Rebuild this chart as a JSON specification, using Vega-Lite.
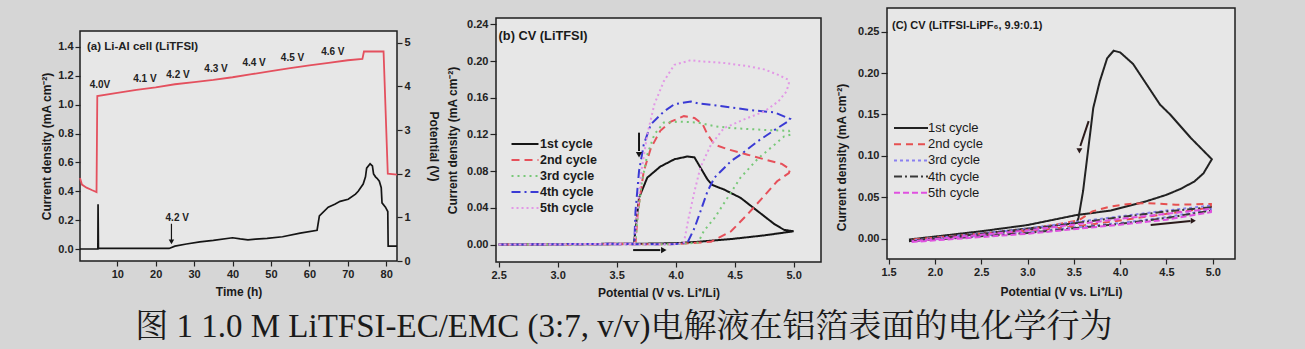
{
 "$schema": "https://vega.github.io/schema/vega-lite/v6.json",
 "background": "#d6d6d6",
 "padding": {"left": 39, "top": 7, "right": 69, "bottom": 5},
 "config": {
  "font": "Liberation Sans",
  "view": {"fill": "#e7e7e7", "stroke": "#1e1e1e", "strokeWidth": 1.5},
  "axis": {"domain": false, "grid": false, "tickColor": "#222", "tickWidth": 1.2, "tickSize": 5, "labelFont": "Liberation Sans", "labelFontSize": 11, "labelFontWeight": "bold", "labelColor": "#222", "labelPadding": 2, "titleFont": "Liberation Sans", "titleFontSize": 12, "titleFontWeight": "bold", "titleColor": "#1a1a1a"}
 },
 "title": {"text": "图 1 1.0 M LiTFSI-EC/EMC (3:7, v/v)电解液在铝箔表面的电化学行为", "orient": "bottom", "anchor": "middle", "dx": -14, "offset": 12, "font": "Liberation Serif, Noto Serif CJK SC, Noto Sans CJK SC", "fontSize": 33, "fontWeight": "normal", "color": "#1a1a1a"},
 "datasets": {
  "aI": [
   {"t": 0.3, "I": 0.0}, {"t": 4.95, "I": 0.0}, {"t": 5.0, "I": 0.31}, {"t": 5.1, "I": 0.005}, {"t": 23.5, "I": 0.004},
   {"t": 25, "I": 0.02}, {"t": 28, "I": 0.035}, {"t": 31.5, "I": 0.05}, {"t": 35, "I": 0.06}, {"t": 40, "I": 0.078},
   {"t": 42, "I": 0.07}, {"t": 44, "I": 0.064}, {"t": 46, "I": 0.068}, {"t": 49, "I": 0.074}, {"t": 53, "I": 0.085},
   {"t": 57.6, "I": 0.11}, {"t": 62, "I": 0.13}, {"t": 62.6, "I": 0.23}, {"t": 64.9, "I": 0.29}, {"t": 66.6, "I": 0.31},
   {"t": 68, "I": 0.33}, {"t": 70.1, "I": 0.345}, {"t": 72, "I": 0.38}, {"t": 72.7, "I": 0.4}, {"t": 74, "I": 0.45},
   {"t": 74.6, "I": 0.5}, {"t": 74.9, "I": 0.56}, {"t": 75.8, "I": 0.59}, {"t": 76.4, "I": 0.575}, {"t": 76.7, "I": 0.52},
   {"t": 77.2, "I": 0.5}, {"t": 77.6, "I": 0.49}, {"t": 78.2, "I": 0.47}, {"t": 78.7, "I": 0.425}, {"t": 78.9, "I": 0.32},
   {"t": 79.8, "I": 0.29}, {"t": 80.4, "I": 0.26}, {"t": 80.5, "I": 0.02}, {"t": 82.8, "I": 0.02}
  ],
  "aV": [
   {"t": 0.3, "V": 1.9}, {"t": 0.8, "V": 1.75}, {"t": 2, "V": 1.68}, {"t": 3.5, "V": 1.62}, {"t": 4.6, "V": 1.58},
   {"t": 4.8, "V": 3.78}, {"t": 10, "V": 3.85}, {"t": 15, "V": 3.92}, {"t": 20, "V": 3.98}, {"t": 25, "V": 4.05},
   {"t": 30, "V": 4.1}, {"t": 35, "V": 4.15}, {"t": 40, "V": 4.21}, {"t": 45, "V": 4.28}, {"t": 50, "V": 4.35},
   {"t": 55, "V": 4.42}, {"t": 60, "V": 4.48}, {"t": 65, "V": 4.54}, {"t": 70, "V": 4.6}, {"t": 73.8, "V": 4.63},
   {"t": 74.2, "V": 4.8}, {"t": 79.3, "V": 4.8}, {"t": 80.4, "V": 2.0}, {"t": 82.8, "V": 1.98}
  ],
  "aLab": [
   {"t": 5.5, "V": 4.03, "label": "4.0V"}, {"t": 17.2, "V": 4.16, "label": "4.1 V"}, {"t": 25.8, "V": 4.26, "label": "4.2 V"},
   {"t": 35.7, "V": 4.39, "label": "4.3 V"}, {"t": 45.6, "V": 4.54, "label": "4.4 V"}, {"t": 55.6, "V": 4.64, "label": "4.5 V"},
   {"t": 66.1, "V": 4.8, "label": "4.6 V"}
  ],
  "b": [
   {"c": "1st cycle", "i": 0, "V": 2.5, "I": 0}, {"c": "1st cycle", "i": 1, "V": 3.5, "I": 0.0005}, {"c": "1st cycle", "i": 2, "V": 4.0, "I": 0.0015},
   {"c": "1st cycle", "i": 3, "V": 4.19, "I": 0.003}, {"c": "1st cycle", "i": 4, "V": 4.47, "I": 0.006}, {"c": "1st cycle", "i": 5, "V": 4.75, "I": 0.01},
   {"c": "1st cycle", "i": 6, "V": 5.0, "I": 0.0145}, {"c": "1st cycle", "i": 7, "V": 4.92, "I": 0.016}, {"c": "1st cycle", "i": 8, "V": 4.84, "I": 0.022},
   {"c": "1st cycle", "i": 9, "V": 4.7, "I": 0.036}, {"c": "1st cycle", "i": 10, "V": 4.55, "I": 0.051}, {"c": "1st cycle", "i": 11, "V": 4.41, "I": 0.06},
   {"c": "1st cycle", "i": 12, "V": 4.31, "I": 0.065}, {"c": "1st cycle", "i": 13, "V": 4.27, "I": 0.071}, {"c": "1st cycle", "i": 14, "V": 4.21, "I": 0.084},
   {"c": "1st cycle", "i": 15, "V": 4.16, "I": 0.095}, {"c": "1st cycle", "i": 16, "V": 4.1, "I": 0.096}, {"c": "1st cycle", "i": 17, "V": 3.99, "I": 0.093},
   {"c": "1st cycle", "i": 18, "V": 3.87, "I": 0.085}, {"c": "1st cycle", "i": 19, "V": 3.76, "I": 0.073}, {"c": "1st cycle", "i": 20, "V": 3.69, "I": 0.051},
   {"c": "1st cycle", "i": 21, "V": 3.647, "I": 0.001}, {"c": "1st cycle", "i": 22, "V": 2.5, "I": 0},
   {"c": "2nd cycle", "i": 0, "V": 2.5, "I": 0}, {"c": "2nd cycle", "i": 1, "V": 4.0, "I": 0.0005}, {"c": "2nd cycle", "i": 2, "V": 4.3, "I": 0.003},
   {"c": "2nd cycle", "i": 3, "V": 4.47, "I": 0.0145}, {"c": "2nd cycle", "i": 4, "V": 4.61, "I": 0.033}, {"c": "2nd cycle", "i": 5, "V": 4.75, "I": 0.053},
   {"c": "2nd cycle", "i": 6, "V": 4.86, "I": 0.069}, {"c": "2nd cycle", "i": 7, "V": 4.96, "I": 0.078}, {"c": "2nd cycle", "i": 8, "V": 4.97, "I": 0.082},
   {"c": "2nd cycle", "i": 9, "V": 4.9, "I": 0.088}, {"c": "2nd cycle", "i": 10, "V": 4.75, "I": 0.093}, {"c": "2nd cycle", "i": 11, "V": 4.61, "I": 0.098},
   {"c": "2nd cycle", "i": 12, "V": 4.44, "I": 0.104}, {"c": "2nd cycle", "i": 13, "V": 4.33, "I": 0.109}, {"c": "2nd cycle", "i": 14, "V": 4.27, "I": 0.12},
   {"c": "2nd cycle", "i": 15, "V": 4.23, "I": 0.131}, {"c": "2nd cycle", "i": 16, "V": 4.16, "I": 0.138}, {"c": "2nd cycle", "i": 17, "V": 4.07, "I": 0.14},
   {"c": "2nd cycle", "i": 18, "V": 3.96, "I": 0.134}, {"c": "2nd cycle", "i": 19, "V": 3.87, "I": 0.124}, {"c": "2nd cycle", "i": 20, "V": 3.79, "I": 0.105},
   {"c": "2nd cycle", "i": 21, "V": 3.73, "I": 0.08}, {"c": "2nd cycle", "i": 22, "V": 3.68, "I": 0.036}, {"c": "2nd cycle", "i": 23, "V": 3.66, "I": 0.001},
   {"c": "2nd cycle", "i": 24, "V": 2.5, "I": 0},
   {"c": "3rd cycle", "i": 0, "V": 2.5, "I": 0}, {"c": "3rd cycle", "i": 1, "V": 4.0, "I": 0.0005}, {"c": "3rd cycle", "i": 2, "V": 4.19, "I": 0.002},
   {"c": "3rd cycle", "i": 3, "V": 4.24, "I": 0.015}, {"c": "3rd cycle", "i": 4, "V": 4.33, "I": 0.029}, {"c": "3rd cycle", "i": 5, "V": 4.44, "I": 0.051},
   {"c": "3rd cycle", "i": 6, "V": 4.55, "I": 0.073}, {"c": "3rd cycle", "i": 7, "V": 4.7, "I": 0.094}, {"c": "3rd cycle", "i": 8, "V": 4.84, "I": 0.109},
   {"c": "3rd cycle", "i": 9, "V": 4.92, "I": 0.118}, {"c": "3rd cycle", "i": 10, "V": 4.98, "I": 0.12}, {"c": "3rd cycle", "i": 11, "V": 4.96, "I": 0.124},
   {"c": "3rd cycle", "i": 12, "V": 4.75, "I": 0.125}, {"c": "3rd cycle", "i": 13, "V": 4.47, "I": 0.127}, {"c": "3rd cycle", "i": 14, "V": 4.33, "I": 0.129},
   {"c": "3rd cycle", "i": 15, "V": 4.19, "I": 0.133}, {"c": "3rd cycle", "i": 16, "V": 4.04, "I": 0.134}, {"c": "3rd cycle", "i": 17, "V": 3.9, "I": 0.133},
   {"c": "3rd cycle", "i": 18, "V": 3.82, "I": 0.12}, {"c": "3rd cycle", "i": 19, "V": 3.76, "I": 0.098}, {"c": "3rd cycle", "i": 20, "V": 3.71, "I": 0.065},
   {"c": "3rd cycle", "i": 21, "V": 3.67, "I": 0.02}, {"c": "3rd cycle", "i": 22, "V": 3.66, "I": 0.001}, {"c": "3rd cycle", "i": 23, "V": 2.5, "I": 0},
   {"c": "4th cycle", "i": 0, "V": 2.5, "I": 0}, {"c": "4th cycle", "i": 1, "V": 4.0, "I": 0.0005}, {"c": "4th cycle", "i": 2, "V": 4.1, "I": 0.002},
   {"c": "4th cycle", "i": 3, "V": 4.16, "I": 0.018}, {"c": "4th cycle", "i": 4, "V": 4.21, "I": 0.036}, {"c": "4th cycle", "i": 5, "V": 4.27, "I": 0.058},
   {"c": "4th cycle", "i": 6, "V": 4.33, "I": 0.073}, {"c": "4th cycle", "i": 7, "V": 4.47, "I": 0.091}, {"c": "4th cycle", "i": 8, "V": 4.55, "I": 0.098},
   {"c": "4th cycle", "i": 9, "V": 4.7, "I": 0.113}, {"c": "4th cycle", "i": 10, "V": 4.84, "I": 0.125}, {"c": "4th cycle", "i": 11, "V": 4.95, "I": 0.134},
   {"c": "4th cycle", "i": 12, "V": 4.97, "I": 0.137}, {"c": "4th cycle", "i": 13, "V": 4.84, "I": 0.144}, {"c": "4th cycle", "i": 14, "V": 4.61, "I": 0.147},
   {"c": "4th cycle", "i": 15, "V": 4.38, "I": 0.151}, {"c": "4th cycle", "i": 16, "V": 4.19, "I": 0.154}, {"c": "4th cycle", "i": 17, "V": 4.13, "I": 0.156},
   {"c": "4th cycle", "i": 18, "V": 3.99, "I": 0.153}, {"c": "4th cycle", "i": 19, "V": 3.9, "I": 0.145}, {"c": "4th cycle", "i": 20, "V": 3.79, "I": 0.131},
   {"c": "4th cycle", "i": 21, "V": 3.73, "I": 0.109}, {"c": "4th cycle", "i": 22, "V": 3.69, "I": 0.08}, {"c": "4th cycle", "i": 23, "V": 3.66, "I": 0.036},
   {"c": "4th cycle", "i": 24, "V": 3.65, "I": 0.001}, {"c": "4th cycle", "i": 25, "V": 2.5, "I": 0},
   {"c": "5th cycle", "i": 0, "V": 2.5, "I": 0}, {"c": "5th cycle", "i": 1, "V": 4.0, "I": 0.0005}, {"c": "5th cycle", "i": 2, "V": 4.07, "I": 0.002},
   {"c": "5th cycle", "i": 3, "V": 4.11, "I": 0.029}, {"c": "5th cycle", "i": 4, "V": 4.16, "I": 0.058}, {"c": "5th cycle", "i": 5, "V": 4.21, "I": 0.084},
   {"c": "5th cycle", "i": 6, "V": 4.3, "I": 0.109}, {"c": "5th cycle", "i": 7, "V": 4.41, "I": 0.127}, {"c": "5th cycle", "i": 8, "V": 4.61, "I": 0.138},
   {"c": "5th cycle", "i": 9, "V": 4.75, "I": 0.145}, {"c": "5th cycle", "i": 10, "V": 4.87, "I": 0.156}, {"c": "5th cycle", "i": 11, "V": 4.94, "I": 0.167},
   {"c": "5th cycle", "i": 12, "V": 4.96, "I": 0.176}, {"c": "5th cycle", "i": 13, "V": 4.95, "I": 0.18}, {"c": "5th cycle", "i": 14, "V": 4.87, "I": 0.185},
   {"c": "5th cycle", "i": 15, "V": 4.75, "I": 0.191}, {"c": "5th cycle", "i": 16, "V": 4.61, "I": 0.1945}, {"c": "5th cycle", "i": 17, "V": 4.41, "I": 0.198},
   {"c": "5th cycle", "i": 18, "V": 4.19, "I": 0.2}, {"c": "5th cycle", "i": 19, "V": 4.13, "I": 0.201}, {"c": "5th cycle", "i": 20, "V": 3.99, "I": 0.196},
   {"c": "5th cycle", "i": 21, "V": 3.9, "I": 0.178}, {"c": "5th cycle", "i": 22, "V": 3.82, "I": 0.153}, {"c": "5th cycle", "i": 23, "V": 3.76, "I": 0.12},
   {"c": "5th cycle", "i": 24, "V": 3.71, "I": 0.08}, {"c": "5th cycle", "i": 25, "V": 3.67, "I": 0.028}, {"c": "5th cycle", "i": 26, "V": 3.65, "I": 0.001},
   {"c": "5th cycle", "i": 27, "V": 2.5, "I": 0}
  ],
  "c": [
   {"c": "1st cycle", "i": 0, "V": 1.72, "I": -0.001}, {"c": "1st cycle", "i": 1, "V": 2.5, "I": 0.009}, {"c": "1st cycle", "i": 2, "V": 3.0, "I": 0.0165},
   {"c": "1st cycle", "i": 3, "V": 3.53, "I": 0.0286}, {"c": "1st cycle", "i": 4, "V": 3.9, "I": 0.034}, {"c": "1st cycle", "i": 5, "V": 4.29, "I": 0.0455},
   {"c": "1st cycle", "i": 6, "V": 4.5, "I": 0.053}, {"c": "1st cycle", "i": 7, "V": 4.65, "I": 0.06}, {"c": "1st cycle", "i": 8, "V": 4.8, "I": 0.069},
   {"c": "1st cycle", "i": 9, "V": 4.9, "I": 0.079}, {"c": "1st cycle", "i": 10, "V": 4.99, "I": 0.096}, {"c": "1st cycle", "i": 11, "V": 4.76, "I": 0.122},
   {"c": "1st cycle", "i": 12, "V": 4.54, "I": 0.15}, {"c": "1st cycle", "i": 13, "V": 4.43, "I": 0.162}, {"c": "1st cycle", "i": 14, "V": 4.14, "I": 0.211},
   {"c": "1st cycle", "i": 15, "V": 4.0, "I": 0.225}, {"c": "1st cycle", "i": 16, "V": 3.93, "I": 0.227}, {"c": "1st cycle", "i": 17, "V": 3.86, "I": 0.218},
   {"c": "1st cycle", "i": 18, "V": 3.78, "I": 0.19}, {"c": "1st cycle", "i": 19, "V": 3.71, "I": 0.158}, {"c": "1st cycle", "i": 20, "V": 3.6, "I": 0.0576},
   {"c": "1st cycle", "i": 21, "V": 3.55, "I": 0.025}, {"c": "1st cycle", "i": 22, "V": 3.53, "I": 0.019}, {"c": "1st cycle", "i": 23, "V": 2.5, "I": 0.006},
   {"c": "1st cycle", "i": 24, "V": 1.72, "I": -0.003},
   {"c": "2nd cycle", "i": 0, "V": 1.75, "I": -0.002}, {"c": "2nd cycle", "i": 1, "V": 3.0, "I": 0.009}, {"c": "2nd cycle", "i": 2, "V": 3.6, "I": 0.016},
   {"c": "2nd cycle", "i": 3, "V": 4.0, "I": 0.022}, {"c": "2nd cycle", "i": 4, "V": 4.5, "I": 0.03}, {"c": "2nd cycle", "i": 5, "V": 4.98, "I": 0.038},
   {"c": "2nd cycle", "i": 6, "V": 4.98, "I": 0.042}, {"c": "2nd cycle", "i": 7, "V": 4.6, "I": 0.041}, {"c": "2nd cycle", "i": 8, "V": 4.3, "I": 0.043},
   {"c": "2nd cycle", "i": 9, "V": 4.1, "I": 0.042}, {"c": "2nd cycle", "i": 10, "V": 3.9, "I": 0.039}, {"c": "2nd cycle", "i": 11, "V": 3.7, "I": 0.033},
   {"c": "2nd cycle", "i": 12, "V": 3.55, "I": 0.022}, {"c": "2nd cycle", "i": 13, "V": 3.0, "I": 0.011}, {"c": "2nd cycle", "i": 14, "V": 1.75, "I": -0.001},
   {"c": "3rd cycle", "i": 0, "V": 1.75, "I": -0.003}, {"c": "3rd cycle", "i": 1, "V": 3.0, "I": 0.008}, {"c": "3rd cycle", "i": 2, "V": 4.0, "I": 0.019},
   {"c": "3rd cycle", "i": 3, "V": 4.5, "I": 0.026}, {"c": "3rd cycle", "i": 4, "V": 4.98, "I": 0.035}, {"c": "3rd cycle", "i": 5, "V": 4.98, "I": 0.04},
   {"c": "3rd cycle", "i": 6, "V": 4.5, "I": 0.034}, {"c": "3rd cycle", "i": 7, "V": 4.0, "I": 0.027}, {"c": "3rd cycle", "i": 8, "V": 3.5, "I": 0.02},
   {"c": "3rd cycle", "i": 9, "V": 3.0, "I": 0.012}, {"c": "3rd cycle", "i": 10, "V": 1.75, "I": -0.002},
   {"c": "4th cycle", "i": 0, "V": 1.75, "I": -0.003}, {"c": "4th cycle", "i": 1, "V": 3.0, "I": 0.007}, {"c": "4th cycle", "i": 2, "V": 4.0, "I": 0.018},
   {"c": "4th cycle", "i": 3, "V": 4.5, "I": 0.025}, {"c": "4th cycle", "i": 4, "V": 4.98, "I": 0.034}, {"c": "4th cycle", "i": 5, "V": 4.98, "I": 0.038},
   {"c": "4th cycle", "i": 6, "V": 4.5, "I": 0.033}, {"c": "4th cycle", "i": 7, "V": 4.0, "I": 0.026}, {"c": "4th cycle", "i": 8, "V": 3.0, "I": 0.011},
   {"c": "4th cycle", "i": 9, "V": 1.75, "I": -0.002},
   {"c": "5th cycle", "i": 0, "V": 1.75, "I": -0.004}, {"c": "5th cycle", "i": 1, "V": 3.0, "I": 0.006}, {"c": "5th cycle", "i": 2, "V": 4.0, "I": 0.017},
   {"c": "5th cycle", "i": 3, "V": 4.5, "I": 0.023}, {"c": "5th cycle", "i": 4, "V": 4.98, "I": 0.032}, {"c": "5th cycle", "i": 5, "V": 4.98, "I": 0.036},
   {"c": "5th cycle", "i": 6, "V": 4.5, "I": 0.03}, {"c": "5th cycle", "i": 7, "V": 4.0, "I": 0.024}, {"c": "5th cycle", "i": 8, "V": 3.0, "I": 0.01},
   {"c": "5th cycle", "i": 9, "V": 1.75, "I": -0.003}
  ]
 },
 "spacing": 5,
 "resolve": {"scale": {"color": "independent", "strokeDash": "independent"}, "legend": {"color": "independent", "strokeDash": "independent"}},
 "hconcat": [
  {
   "spacing": 0,
   "vconcat": [
    {"width": 10, "height": 22, "data": {"values": [{"k": 0}]}, "mark": {"type": "point", "opacity": 0}, "encoding": {}, "view": {"stroke": null, "fill": null}},
    {
     "width": 317, "height": 230,
     "encoding": {"x": {"field": "t", "type": "quantitative", "scale": {"domain": [0.3, 82.8], "nice": false, "zero": false}, "axis": {"values": [10, 20, 30, 40, 50, 60, 70, 80], "title": "Time (h)", "titlePadding": 7}}},
     "layer": [
      {
       "encoding": {"y": {"field": "I", "type": "quantitative", "scale": {"domain": [-0.083, 1.51], "nice": false, "zero": false}, "axis": {"values": [0, 0.2, 0.4, 0.6, 0.8, 1.0, 1.2, 1.4], "format": ".1f", "title": "Current density (mA cm⁻²)", "titlePadding": 4}}},
       "layer": [
        {"data": {"name": "aI"}, "mark": {"type": "line", "color": "#151515", "strokeWidth": 1.7}},
        {"data": {"values": [{"t": 24.1, "I": 0.175, "I2": 0.06}]}, "mark": {"type": "rule", "color": "#151515", "strokeWidth": 1.2}, "encoding": {"y2": {"field": "I2"}}},
        {"data": {"values": [{"t": 24.1, "I": 0.05}]}, "mark": {"type": "point", "shape": "triangle-down", "filled": true, "opacity": 1, "size": 30, "color": "#151515"}},
        {"data": {"values": [{"t": 25.6, "I": 0.217, "label": "4.2 V"}]}, "mark": {"type": "text", "fontSize": 10, "fontWeight": "bold", "color": "#222", "baseline": "middle"}, "encoding": {"text": {"field": "label"}}},
        {"data": {"values": [{"t": 2.1, "I": 1.4, "label": "(a) Li-Al cell (LiTFSI)"}]}, "mark": {"type": "text", "fontSize": 11.5, "fontWeight": "bold", "color": "#222", "align": "left", "baseline": "middle"}, "encoding": {"text": {"field": "label"}}}
       ]
      },
      {
       "encoding": {"y": {"field": "V", "type": "quantitative", "scale": {"domain": [0, 5.27], "nice": false, "zero": false}, "axis": {"orient": "right", "values": [0, 1, 2, 3, 4, 5], "title": "Potential (V)", "titlePadding": 16}}},
       "layer": [
        {"data": {"name": "aV"}, "mark": {"type": "line", "color": "#e4505e", "strokeWidth": 1.8}},
        {"data": {"name": "aLab"}, "mark": {"type": "text", "fontSize": 10, "fontWeight": "bold", "color": "#222", "baseline": "middle"}, "encoding": {"text": {"field": "label"}}}
       ]
      }
     ],
     "resolve": {"scale": {"y": "independent"}}
    }
   ]
  },
  {
   "spacing": 12,
   "resolve": {"scale": {"color": "independent", "strokeDash": "independent"}, "legend": {"color": "independent", "strokeDash": "independent"}},
   "hconcat": [
    {
     "spacing": 0,
     "vconcat": [
      {"width": 10, "height": 9, "data": {"values": [{"k": 0}]}, "mark": {"type": "point", "opacity": 0}, "encoding": {}, "view": {"stroke": null, "fill": null}},
      {
       "width": 325, "height": 244,
       "encoding": {
        "x": {"field": "V", "type": "quantitative", "scale": {"domain": [2.478, 5.232], "nice": false, "zero": false}, "axis": {"values": [2.5, 3.0, 3.5, 4.0, 4.5, 5.0], "format": ".1f", "title": "Potential (V vs. Li⁺/Li)", "titlePadding": 7}},
        "y": {"field": "I", "type": "quantitative", "scale": {"domain": [-0.019, 0.247], "nice": false, "zero": false}, "axis": {"values": [0, 0.04, 0.08, 0.12, 0.16, 0.2, 0.24], "format": ".2f", "title": "Current density (mA cm⁻²)", "titlePadding": 7, "tickSize": 6}}
       },
       "layer": [
        {"data": {"name": "b"}, "mark": {"type": "line", "strokeWidth": 2},
         "encoding": {
          "color": {"field": "c", "type": "nominal", "scale": {"domain": ["1st cycle", "2nd cycle", "3rd cycle", "4th cycle", "5th cycle"], "range": ["#151515", "#e6505a", "#78c878", "#3a3ad4", "#e298e6"]}, "legend": {"orient": "none", "legendX": 21, "legendY": 128, "title": null, "symbolType": "M-2,0H2", "symbolSize": 182, "symbolStrokeWidth": 2, "labelFontSize": 12.5, "labelFontWeight": "bold", "labelColor": "#1a1a1a", "labelFont": "Liberation Sans", "rowPadding": 1, "labelOffset": 7, "padding": 0}},
          "strokeDash": {"field": "c", "type": "nominal", "scale": {"domain": ["1st cycle", "2nd cycle", "3rd cycle", "4th cycle", "5th cycle"], "range": [[1, 0], [8, 5], [2, 4], [9, 4, 2, 4], [2, 3]]}, "legend": {"orient": "none", "legendX": 21, "legendY": 128, "title": null, "symbolType": "M-2,0H2", "symbolSize": 182, "symbolStrokeWidth": 2, "labelFontSize": 12.5, "labelFontWeight": "bold", "labelColor": "#1a1a1a", "labelFont": "Liberation Sans", "rowPadding": 1, "labelOffset": 7, "padding": 0}},
          "order": {"field": "i", "type": "quantitative"}
         }},
        {"data": {"values": [{"V": 3.69, "I": 0.122, "V2": 3.69, "I2": 0.102}, {"V": 3.64, "I": -0.006, "V2": 3.87, "I2": -0.006}]}, "mark": {"type": "rule", "color": "#151515", "strokeWidth": 2}, "encoding": {"x2": {"field": "V2"}, "y2": {"field": "I2"}}},
        {"data": {"values": [{"V": 3.69, "I": 0.098, "s": "triangle-down"}, {"V": 3.9, "I": -0.006, "s": "triangle-right"}]}, "mark": {"type": "point", "filled": true, "opacity": 1, "size": 40, "color": "#151515"}, "encoding": {"shape": {"field": "s", "type": "nominal", "scale": null}}},
        {"data": {"values": [{"V": 2.5, "I": 0.227, "label": "(b) CV (LiTFSI)"}]}, "mark": {"type": "text", "fontSize": 12.8, "fontWeight": "bold", "color": "#1a1a1a", "align": "left", "baseline": "middle"}, "encoding": {"text": {"field": "label"}}}
       ]
      }
     ]
    },
    {
     "width": 348, "height": 251,
     "encoding": {
      "x": {"field": "V", "type": "quantitative", "scale": {"domain": [1.483, 5.24], "nice": false, "zero": false}, "axis": {"values": [1.5, 2.0, 2.5, 3.0, 3.5, 4.0, 4.5, 5.0], "format": ".1f", "title": "Potential (V vs. Li⁺/Li)", "titlePadding": 9}},
      "y": {"field": "I", "type": "quantitative", "scale": {"domain": [-0.0245, 0.2786], "nice": false, "zero": false}, "axis": {"values": [0, 0.05, 0.1, 0.15, 0.2, 0.25], "format": ".2f", "title": "Current density (mA cm⁻²)", "titlePadding": 9, "tickSize": 6, "titleY": 149}}
     },
     "layer": [
      {"data": {"name": "c"}, "mark": {"type": "line", "strokeWidth": 2},
       "encoding": {
        "color": {"field": "c", "type": "nominal", "scale": {"domain": ["1st cycle", "2nd cycle", "3rd cycle", "4th cycle", "5th cycle"], "range": ["#222222", "#e65050", "#8a80f0", "#383838", "#e050e0"]}, "legend": {"orient": "none", "legendX": 16, "legendY": 112, "title": null, "symbolType": "M-2.5,0H2.5", "symbolSize": 185, "symbolStrokeWidth": 2, "labelFontSize": 13, "labelFontWeight": "normal", "labelColor": "#1a1a1a", "labelFont": "Liberation Sans", "rowPadding": 1.2, "labelOffset": 9, "padding": 0}},
        "strokeDash": {"field": "c", "type": "nominal", "scale": {"domain": ["1st cycle", "2nd cycle", "3rd cycle", "4th cycle", "5th cycle"], "range": [[1, 0], [7, 5], [3, 3], [8, 3, 2, 3], [6, 3]]}, "legend": {"orient": "none", "legendX": 16, "legendY": 112, "title": null, "symbolType": "M-2.5,0H2.5", "symbolSize": 185, "symbolStrokeWidth": 2, "labelFontSize": 13, "labelFontWeight": "normal", "labelColor": "#1a1a1a", "labelFont": "Liberation Sans", "rowPadding": 1.2, "labelOffset": 9, "padding": 0}},
        "order": {"field": "i", "type": "quantitative"}
       }},
      {"data": {"values": [{"V": 3.66, "I": 0.142, "V2": 3.57, "I2": 0.112}, {"V": 4.33, "I": 0.0165, "V2": 4.76, "I2": 0.0213}]}, "mark": {"type": "rule", "color": "#2a1a1a", "strokeWidth": 2}, "encoding": {"x2": {"field": "V2"}, "y2": {"field": "I2"}}},
      {"data": {"values": [{"V": 3.56, "I": 0.106, "s": "triangle-down"}, {"V": 4.79, "I": 0.0216, "s": "triangle-right"}]}, "mark": {"type": "point", "filled": true, "opacity": 1, "size": 35, "color": "#2a1a1a"}, "encoding": {"shape": {"field": "s", "type": "nominal", "scale": null}}},
      {"data": {"values": [{"V": 1.537, "I": 0.257, "label": "(C) CV (LiTFSI-LiPF₆, 9.9:0.1)"}]}, "mark": {"type": "text", "fontSize": 11, "fontWeight": "bold", "color": "#1a1a1a", "align": "left", "baseline": "middle"}, "encoding": {"text": {"field": "label"}}}
     ]
    }
   ]
  }
 ]
}
